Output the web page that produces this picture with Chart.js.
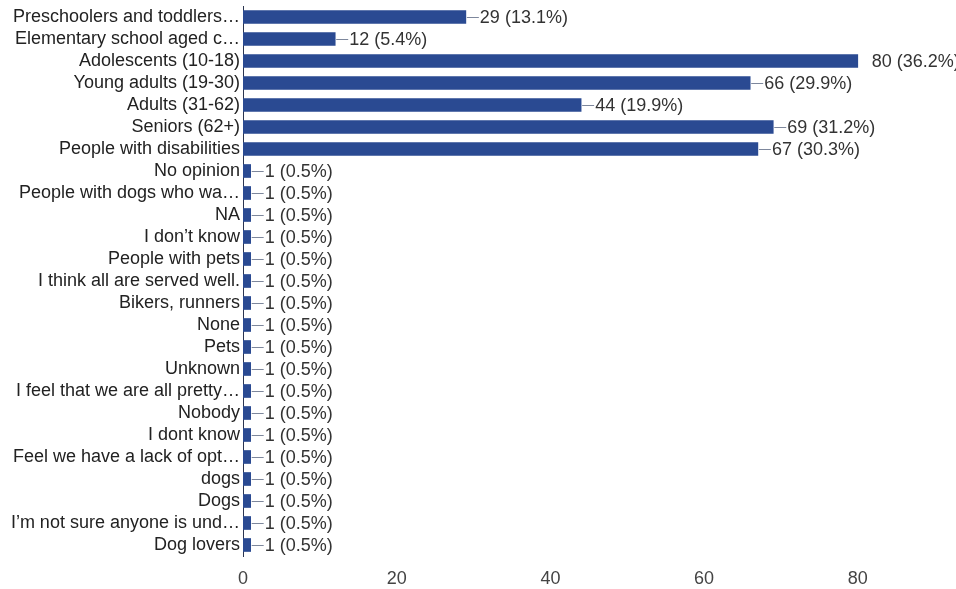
<!DOCTYPE html>
<html>
<head>
<meta charset="utf-8">
<script src="https://cdn.jsdelivr.net/npm/chart.js@4/dist/chart.umd.min.js"></script>
<style>
html,body{margin:0;padding:0;background:#fff;}
#wrap{width:956px;height:589px;position:relative;}
</style>
</head>
<body>
<div id="wrap"><canvas id="c" width="956" height="589"></canvas></div>
<script>
const categories = [
  "Preschoolers and toddlers…",
  "Elementary school aged c…",
  "Adolescents (10-18)",
  "Young adults (19-30)",
  "Adults (31-62)",
  "Seniors (62+)",
  "People with disabilities",
  "No opinion",
  "People with dogs who wa…",
  "NA",
  "I don’t know",
  "People with pets",
  "I think all are served well.",
  "Bikers, runners",
  "None",
  "Pets",
  "Unknown",
  "I feel that we are all pretty…",
  "Nobody",
  "I dont know",
  "Feel we have a lack of opt…",
  "dogs",
  "Dogs",
  "I’m not sure anyone is und…",
  "Dog lovers"
];
const counts = [29, 12, 80, 66, 44, 69, 67, 1, 1, 1, 1, 1, 1, 1, 1, 1, 1, 1, 1, 1, 1, 1, 1, 1, 1];
const percents = ["13.1%", "5.4%", "36.2%", "29.9%", "19.9%", "31.2%", "30.3%", "0.5%", "0.5%", "0.5%", "0.5%", "0.5%", "0.5%", "0.5%", "0.5%", "0.5%", "0.5%", "0.5%", "0.5%", "0.5%", "0.5%", "0.5%", "0.5%", "0.5%", "0.5%"];
const xTicks = [0, 20, 40, 60, 80];

const FONT = "'Liberation Sans', Arial, sans-serif";

const valueLabels = {
  id: 'valueLabels',
  afterDatasetsDraw(chart) {
    const ctx = chart.ctx;
    const meta = chart.getDatasetMeta(0);
    const maxV = Math.max(...counts);
    ctx.save();
    ctx.font = "18px " + FONT;
    ctx.textBaseline = 'middle';
    ctx.textAlign = 'left';
    meta.data.forEach((bar, i) => {
      const x = bar.x, y = bar.y;
      if (counts[i] !== maxV) {
        ctx.strokeStyle = '#7d879c';
        ctx.lineWidth = 1;
        ctx.beginPath();
        ctx.moveTo(x + 1, Math.round(y) + 0.5);
        ctx.lineTo(x + 13, Math.round(y) + 0.5);
        ctx.stroke();
      }
      ctx.fillStyle = '#333';
      ctx.fillText(counts[i] + " (" + percents[i] + ")", x + 14, y + 1);
    });
    ctx.restore();
  }
};

new Chart(document.getElementById('c'), {
  type: 'bar',
  data: {
    labels: categories,
    datasets: [{
      data: counts,
      backgroundColor: '#2a4a92',
      borderWidth: 0,
      barThickness: 13
    }]
  },
  options: {
    indexAxis: 'y',
    responsive: false,
    animation: false,
    layout: { padding: { top: 6, right: 6, bottom: 0, left: 0 } },
    plugins: { legend: { display: false }, tooltip: { enabled: false } },
    scales: {
      x: {
        min: 0, max: 92,
        grid: { display: false, drawTicks: false },
        border: { display: false },
        afterBuildTicks(scale) { scale.ticks = xTicks.map(v => ({ value: v })); },
        afterFit(scale) { scale.height = 33; scale.paddingLeft = 0; scale.paddingRight = 0; },
        ticks: { color: '#444', font: { size: 18, family: FONT }, padding: 12, maxRotation: 0 }
      },
      y: {
        grid: { display: false, drawTicks: false },
        border: { display: true, color: '#2b3550', width: 1 },
        afterFit(scale) { scale.width = 243; scale.paddingTop = 0; scale.paddingBottom = 0; },
        ticks: { color: '#222', font: { size: 18, family: FONT }, padding: 3, autoSkip: false }
      }
    }
  },
  plugins: [valueLabels]
});
</script>
</body>
</html>
